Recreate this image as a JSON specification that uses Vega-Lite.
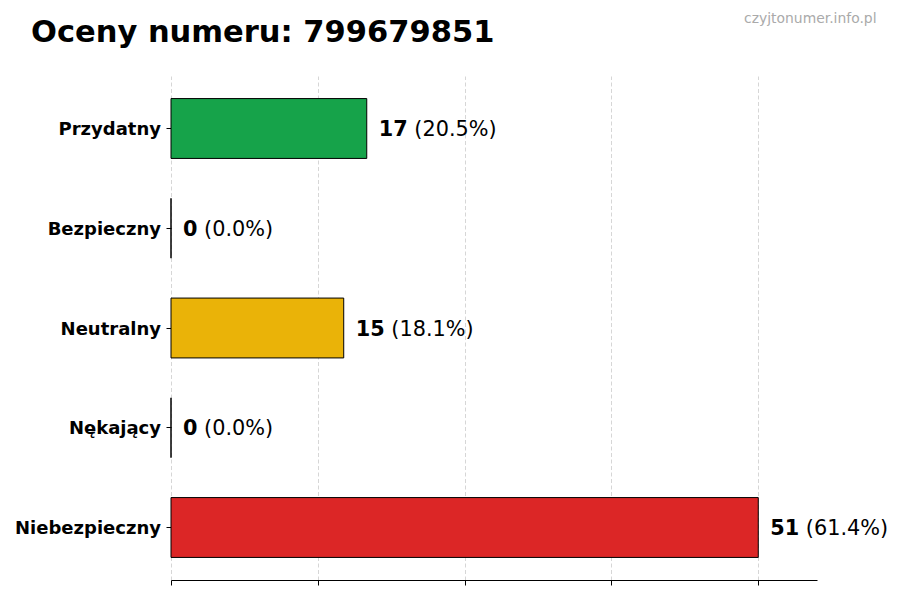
{
  "$schema": "https://vega.github.io/schema/vega-lite/v6.json",
  "autosize": "none",
  "width": 646,
  "height": 504,
  "padding": {"left": 171, "top": 76, "right": 83, "bottom": 20},
  "background": "white",
  "config": {
    "view": {"stroke": null},
    "font": "DejaVu Sans",
    "axis": {"zindex": 1}
  },
  "title": {
    "text": "Oceny numeru: 799679851",
    "anchor": "start",
    "frame": "group",
    "dx": -140,
    "offset": -61,
    "baseline": "alphabetic",
    "font": "DejaVu Sans",
    "fontSize": 30.5,
    "fontWeight": "bold",
    "color": "#000000"
  },
  "data": {
    "values": [
      {"category": "Przydatny", "count": 17, "num": "17", "pct": "(20.5%)", "color": "#16a34a"},
      {"category": "Bezpieczny", "count": 0, "num": "0", "pct": "(0.0%)", "color": "#2563eb"},
      {"category": "Neutralny", "count": 15, "num": "15", "pct": "(18.1%)", "color": "#eab308"},
      {"category": "Nękający", "count": 0, "num": "0", "pct": "(0.0%)", "color": "#ea580c"},
      {"category": "Niebezpieczny", "count": 51, "num": "51", "pct": "(61.4%)", "color": "#dc2626"}
    ]
  },
  "encoding": {
    "y": {
      "field": "category",
      "type": "nominal",
      "sort": null,
      "scale": {"paddingInner": 0.4, "paddingOuter": 0.2263},
      "axis": {
        "title": null,
        "domain": false,
        "ticks": true,
        "tickSize": 5,
        "tickColor": "#000000",
        "labelPadding": 5.5,
        "labelOffset": 1.5,
        "labelFont": "DejaVu Sans",
        "labelFontSize": 18,
        "labelFontWeight": "bold",
        "labelColor": "#000000",
        "grid": false
      }
    }
  },
  "layer": [
    {
      "mark": {"type": "bar", "stroke": "#000000", "strokeWidth": 1},
      "encoding": {
        "x": {
          "field": "count",
          "type": "quantitative",
          "scale": {"domain": [0, 56.1], "nice": false, "zero": true},
          "axis": {
            "values": [0, 12.75, 25.5, 38.25, 51],
            "labels": false,
            "ticks": true,
            "tickSize": 5,
            "tickColor": "#000000",
            "domain": true,
            "domainColor": "#000000",
            "domainWidth": 1,
            "grid": true,
            "gridColor": "#bbbbbb",
            "gridOpacity": 0.6,
            "gridDash": [4, 2.5],
            "gridWidth": 1,
            "title": "czyjtonumer.info.pl",
            "titleFont": "DejaVu Sans",
            "titleFontSize": 13.9,
            "titleFontWeight": "normal",
            "titleColor": "#aaaaaa",
            "titleAlign": "right",
            "titleBaseline": "alphabetic",
            "titleAnchor": "start",
            "titleX": 705,
            "titleY": -558
          }
        },
        "color": {"field": "color", "type": "nominal", "scale": null}
      }
    },
    {
      "mark": {"type": "text", "align": "left", "baseline": "middle", "dx": 12, "dy": 1.5, "fontSize": 20.8, "fontWeight": "bold", "font": "DejaVu Sans", "color": "#000000"},
      "encoding": {
        "x": {"field": "count", "type": "quantitative"},
        "text": {"field": "num"}
      }
    },
    {
      "transform": [{"filter": "datum.count >= 10"}],
      "mark": {"type": "text", "align": "left", "baseline": "middle", "dx": 47.6, "dy": 1.5, "fontSize": 20.8, "fontWeight": "normal", "font": "DejaVu Sans", "color": "#000000"},
      "encoding": {
        "x": {"field": "count", "type": "quantitative"},
        "text": {"field": "pct"}
      }
    },
    {
      "transform": [{"filter": "datum.count < 10"}],
      "mark": {"type": "text", "align": "left", "baseline": "middle", "dx": 33.1, "dy": 1.5, "fontSize": 20.8, "fontWeight": "normal", "font": "DejaVu Sans", "color": "#000000"},
      "encoding": {
        "x": {"field": "count", "type": "quantitative"},
        "text": {"field": "pct"}
      }
    }
  ]
}
